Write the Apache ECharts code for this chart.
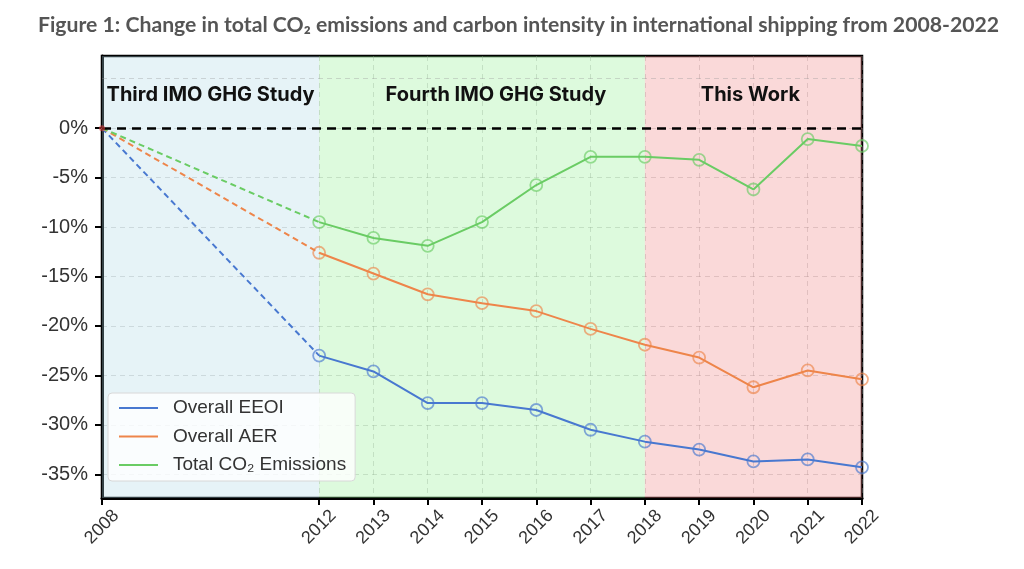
<!DOCTYPE html>
<html><head><meta charset="utf-8">
<script src="https://cdn.jsdelivr.net/npm/echarts@6/dist/echarts.min.js"></script>
<style>html,body{margin:0;padding:0;background:#fff}#c{width:1024px;height:569px}</style>
</head><body><div id="c"></div>
<script>
var years = [2012, 2013, 2014, 2015, 2016, 2017, 2018, 2019, 2020, 2021, 2022];
var baseYear = 2008;
var eeoi = [-23.0, -24.6, -27.8, -27.8, -28.5, -30.5, -31.7, -32.5, -33.7, -33.5, -34.3];
var aer  = [-12.6, -14.7, -16.8, -17.7, -18.5, -20.3, -21.9, -23.2, -26.2, -24.5, -25.4];
var co2  = [-9.5, -11.1, -11.9, -9.5, -5.75, -2.9, -2.9, -3.2, -6.2, -1.1, -1.8];
var xTickYears = [2008, 2012, 2013, 2014, 2015, 2016, 2017, 2018, 2019, 2020, 2021, 2022];
var yTickValues = [-35, -30, -25, -20, -15, -10, -5, 0];
var yExtraGridValues = [5];
var regions = [
  {name: 'Third IMO GHG Study', from: 2008, to: 2012},
  {name: 'Fourth IMO GHG Study', from: 2012, to: 2018},
  {name: 'This Work', from: 2018, to: 2022}
];
var seriesNames = ['Overall EEOI', 'Overall AER', 'Total CO\u2082 Emissions'];

var colors = ['#4878D0', '#EE854A', '#6ACC64'];
var markerColors = ['rgba(72,120,208,0.65)', 'rgba(238,133,74,0.65)', 'rgba(106,204,100,0.65)'];
var regionColors = ['rgba(173,216,230,0.3)', 'rgba(144,238,144,0.3)', 'rgba(240,128,128,0.3)'];
var regionLabelOffsets = [[0, 0], [14, 0], [-3, 0]];
var gridLineStyle = {color: 'rgba(150,150,150,0.35)', type: [5, 4], width: 1};
var values = [eeoi, aer, co2];

function pairs(vals) { return years.map(function (y, i) { return [y, vals[i]]; }); }

var series = [];
values.forEach(function (vals, k) {
  series.push({
    name: seriesNames[k] + ' (est.)', type: 'line', silent: true,
    data: [[baseYear, 0], [years[0], vals[0]]],
    showSymbol: false, symbol: 'none',
    lineStyle: {color: colors[k], width: 2, type: [6, 4]},
    z: 3
  });
});
values.forEach(function (vals, k) {
  series.push({
    name: seriesNames[k], type: 'line', data: pairs(vals),
    symbol: 'circle', symbolSize: 12,
    itemStyle: {color: 'rgba(0,0,0,0)', borderColor: markerColors[k], borderWidth: 1.8},
    lineStyle: {color: colors[k], width: 2},
    z: 4
  });
});
// background regions, zero line, extra grid line
series.push({
  name: 'regions', type: 'line', data: [], silent: true,
  markArea: {
    silent: true,
    data: regions.map(function (r, i) {
      return [{name: r.name, xAxis: r.from, itemStyle: {color: regionColors[i]},
               label: {offset: regionLabelOffsets[i]}}, {xAxis: r.to}];
    }),
    label: {show: true, position: 'insideTop', distance: 29, color: '#111',
            fontFamily: 'Inter', fontWeight: 'bold', fontSize: 20}
  },
  markLine: {
    silent: true, symbol: 'none', animation: false,
    label: {show: false},
    data: [{yAxis: 0, lineStyle: {color: '#000', width: 2.5, type: [9, 6]}}].concat(
      yExtraGridValues.map(function (v) { return {yAxis: v, lineStyle: gridLineStyle}; }))
  },
  z: 1
});
series.push({
  name: 'origin', type: 'scatter', silent: true,
  data: [[baseYear, 0]], symbolSize: 6,
  itemStyle: {color: 'rgba(220,60,60,0.7)'}, z: 5
});

var chart = echarts.init(document.getElementById('c'));
chart.setOption({
  animation: false,
  title: {
    text: 'Figure 1: Change in total CO\u2082 emissions and carbon intensity in international shipping from 2008-2022',
    left: 33, top: 10,
    textStyle: {fontFamily: 'Lato', fontWeight: 'bold', fontSize: 21.2, color: '#555'}
  },
  grid: {left: 102, right: 162, top: 56, bottom: 71, show: true,
         borderColor: '#000', borderWidth: 2.5, backgroundColor: 'transparent'},
  legend: {
    data: seriesNames.map(function (n, k) {
      return {name: n, icon: 'rect', itemStyle: {color: colors[k], borderWidth: 0}};
    }),
    orient: 'vertical', left: 108, top: 393,
    itemWidth: 39, itemHeight: 2, itemGap: 8.5,
    padding: [5, 9, 6, 11],
    backgroundColor: 'rgba(255,255,255,0.8)', borderColor: '#d8d8d8', borderWidth: 1, borderRadius: 4,
    textStyle: {fontFamily: 'Liberation Sans', fontSize: 19, color: '#333', lineHeight: 20, padding: [0, 0, 0, 10]},
    selectedMode: false
  },
  xAxis: {
    type: 'value', min: 2008, max: 2022,
    axisLine: {show: true, onZero: false, lineStyle: {color: '#000', width: 3}},
    axisTick: {show: true, customValues: xTickYears, length: 7, lineStyle: {color: '#000', width: 2}},
    axisLabel: {customValues: xTickYears, rotate: 45, align: 'center', verticalAlign: 'middle',
                fontFamily: 'Liberation Sans', fontSize: 18, color: '#333', margin: 29,
                formatter: function (v) { return String(v); }},
    splitLine: {show: true, lineStyle: gridLineStyle}
  },
  yAxis: {
    type: 'value', min: -37.4, max: 7.3,
    axisLine: {show: true, lineStyle: {color: '#000', width: 3}},
    axisTick: {show: true, customValues: yTickValues, length: 7, lineStyle: {color: '#000', width: 2}},
    axisLabel: {customValues: yTickValues, fontFamily: 'Liberation Sans', fontSize: 20, color: '#333', margin: 14,
                formatter: function (v) { return v + '%'; }},
    splitLine: {show: true, lineStyle: gridLineStyle}
  },
  series: series
});
</script></body></html>
